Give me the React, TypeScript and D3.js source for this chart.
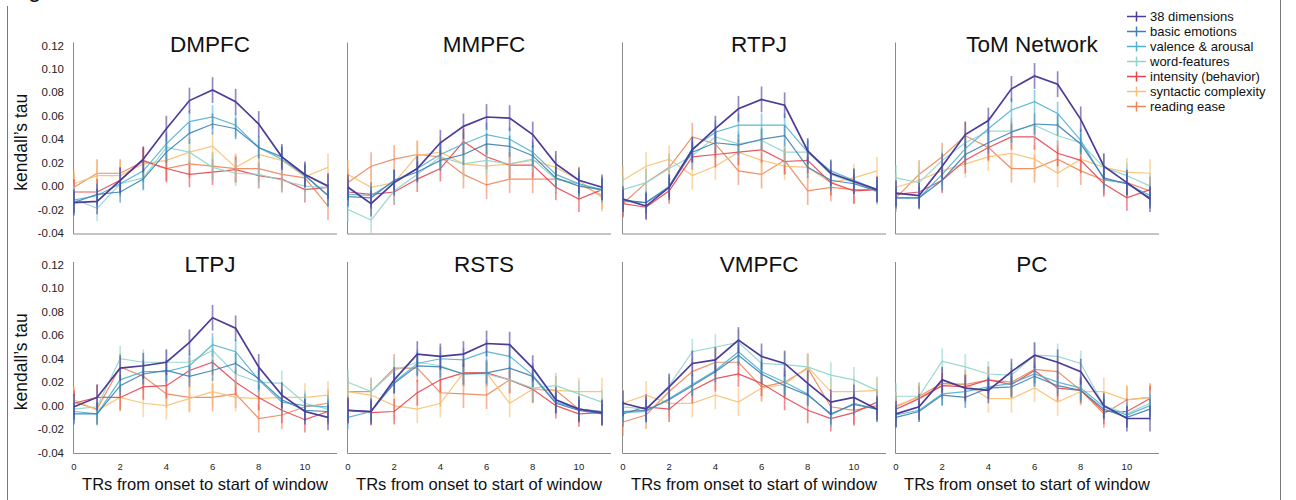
import React from "react";
import * as d3 from "d3";

// TR offsets (x categories)
const TRS = [0, 1, 2, 3, 4, 5, 6, 7, 8, 9, 10, 11];
const X_TICKS = [0, 2, 4, 6, 8, 10];
const Y_TICKS = [-0.04, -0.02, 0.0, 0.02, 0.04, 0.06, 0.08, 0.1, 0.12];

const SERIES = [
  "38 dimensions",
  "basic emotions",
  "valence & arousal",
  "word-features",
  "intensity (behavior)",
  "syntactic complexity",
  "reading ease",
];
const COLORS = ["#4b3c99", "#3d7fb5", "#4fb1cf", "#8ed5c9", "#e8434f", "#f8c070", "#f08456"];
// half-width of each series' error bar
const ERR = [0.011, 0.009, 0.01, 0.011, 0.011, 0.012, 0.012];

// rows: series in SERIES order, columns: TRS
const DMPFC = [
  [-0.014, -0.013, 0.005, 0.023, 0.049, 0.073, 0.082, 0.072, 0.053, 0.025, 0.01, 0.0],
  [-0.014, -0.007, -0.005, 0.006, 0.029, 0.045, 0.053, 0.049, 0.033, 0.025, 0.009, -0.008],
  [-0.012, -0.008, 0.002, 0.013, 0.036, 0.055, 0.059, 0.052, 0.033, 0.023, 0.009, -0.008],
  [-0.011, -0.019, 0.002, 0.007, 0.033, 0.029, 0.016, 0.011, 0.01, 0.005, 0.0, -0.001],
  [-0.005, -0.005, 0.005, 0.022, 0.015, 0.01, 0.012, 0.014, 0.009, 0.006, -0.003, -0.001],
  [0.002, 0.009, 0.009, 0.019, 0.022, 0.029, 0.034, 0.016, 0.027, 0.022, 0.008, 0.016],
  [-0.001, 0.011, 0.011, 0.021, 0.015, 0.019, 0.017, 0.015, 0.015, 0.01, 0.007, -0.017],
];
const MMPFC = [
  [-0.001, -0.015, 0.003, 0.015, 0.037, 0.051, 0.059, 0.058, 0.044, 0.019, 0.005, -0.001],
  [-0.009, -0.01, 0.005, 0.012, 0.022, 0.027, 0.036, 0.034, 0.026, 0.007, 0.0, -0.003],
  [-0.007, -0.008, 0.004, 0.015, 0.027, 0.036, 0.044, 0.04, 0.029, 0.01, 0.002, -0.003],
  [-0.02, -0.029, -0.004, 0.01, 0.025, 0.019, 0.022, 0.019, 0.023, 0.006, 0.002, -0.004],
  [-0.005, -0.007, -0.005, 0.006, 0.015, 0.038, 0.025, 0.018, 0.018, -0.001, -0.011, -0.003],
  [0.01, -0.001, 0.003, 0.026, 0.029, 0.019, 0.017, 0.019, 0.022, 0.016, 0.005, -0.01],
  [0.003, 0.017, 0.023, 0.027, 0.025, 0.01, 0.001, 0.006, 0.006, 0.006, 0.002, -0.008],
];
const RTPJ = [
  [-0.011, -0.017, -0.001, 0.031, 0.049, 0.066, 0.074, 0.069, 0.03, 0.011, 0.004, -0.003],
  [-0.012, -0.014, -0.001, 0.029, 0.037, 0.035, 0.04, 0.043, 0.016, 0.005, 0.002, -0.004],
  [-0.013, -0.014, 0.0, 0.032, 0.046, 0.052, 0.052, 0.052, 0.029, 0.013, 0.005, -0.003],
  [-0.003, 0.003, 0.015, 0.026, 0.042, 0.036, 0.039, 0.029, 0.029, 0.01, 0.003, -0.005],
  [-0.015, -0.018, -0.004, 0.025, 0.027, 0.029, 0.031, 0.021, 0.022, 0.003, -0.004, -0.003],
  [0.005, 0.017, 0.023, 0.009, 0.017, 0.029, 0.022, 0.017, 0.016, 0.003, 0.007, 0.013],
  [-0.015, 0.003, 0.016, 0.042, 0.036, 0.013, 0.01, 0.022, -0.004, -0.001, -0.003, -0.003],
];
const TOM = [
  [-0.006, -0.008, 0.017, 0.044, 0.056, 0.083, 0.094, 0.087, 0.057, 0.017, 0.003, -0.011],
  [-0.01, -0.01, 0.005, 0.027, 0.037, 0.046, 0.053, 0.052, 0.036, 0.007, 0.002, -0.01],
  [-0.01, -0.01, 0.01, 0.032, 0.049, 0.065, 0.072, 0.062, 0.039, 0.006, 0.002, -0.008],
  [0.007, 0.003, 0.022, 0.037, 0.047, 0.047, 0.052, 0.043, 0.037, 0.016, 0.009, 0.0],
  [-0.007, -0.005, 0.005, 0.022, 0.033, 0.042, 0.042, 0.028, 0.022, 0.002, -0.01, -0.003],
  [-0.001, 0.005, 0.013, 0.019, 0.025, 0.028, 0.023, 0.011, 0.023, 0.016, 0.012, 0.011],
  [-0.01, 0.01, 0.025, 0.043, 0.033, 0.015, 0.015, 0.023, 0.013, 0.005, 0.003, -0.004],
];
const LTPJ = [
  [-0.001, 0.007, 0.032, 0.034, 0.037, 0.054, 0.075, 0.066, 0.033, 0.009, -0.005, -0.01],
  [-0.007, -0.007, 0.017, 0.027, 0.03, 0.025, 0.03, 0.036, 0.023, 0.005, -0.004, -0.005],
  [-0.005, -0.007, 0.022, 0.029, 0.029, 0.034, 0.052, 0.046, 0.022, 0.003, 0.0, -0.001],
  [-0.003, -0.001, 0.04, 0.037, 0.037, 0.037, 0.047, 0.027, 0.02, 0.019, 0.002, -0.003],
  [0.002, 0.007, 0.007, 0.016, 0.017, 0.03, 0.037, 0.02, 0.007, -0.004, -0.012, -0.005],
  [0.005, -0.004, 0.007, 0.002, 0.0, 0.006, 0.012, 0.007, 0.006, 0.007, 0.007, 0.009],
  [0.003, -0.003, 0.033, 0.025, 0.01, 0.007, 0.007, 0.01, -0.011, -0.008, -0.001, 0.002],
];
const RSTS = [
  [-0.004, -0.005, 0.022, 0.044, 0.042, 0.044, 0.053, 0.052, 0.032, 0.005, -0.003, -0.006],
  [-0.004, -0.005, 0.019, 0.034, 0.033, 0.027, 0.028, 0.032, 0.025, 0.002, -0.004, -0.007],
  [-0.01, -0.005, 0.02, 0.036, 0.04, 0.039, 0.046, 0.042, 0.026, 0.003, -0.003, -0.005],
  [0.02, 0.012, 0.03, 0.037, 0.034, 0.027, 0.027, 0.022, 0.015, 0.017, 0.01, 0.003],
  [-0.004, -0.006, -0.005, 0.011, 0.022, 0.028, 0.028, 0.022, 0.014, 0.0, -0.007, -0.006],
  [0.012, 0.009, 0.0, -0.003, 0.002, 0.028, 0.028, 0.002, 0.014, 0.013, 0.012, 0.012],
  [0.012, 0.012, 0.032, 0.032, 0.011, 0.01, 0.009, 0.022, 0.014, 0.013, -0.003, -0.005],
];
const VMPFC = [
  [0.002, -0.003, 0.016, 0.036, 0.039, 0.056, 0.042, 0.036, 0.019, 0.003, 0.007, -0.003],
  [-0.005, -0.004, 0.005, 0.017, 0.029, 0.043, 0.027, 0.017, 0.009, -0.007, 0.001, -0.003],
  [-0.006, -0.005, 0.006, 0.018, 0.03, 0.046, 0.029, 0.02, 0.01, -0.008, 0.002, -0.003],
  [-0.001, -0.003, 0.017, 0.046, 0.05, 0.054, 0.036, 0.035, 0.033, 0.026, 0.022, 0.013],
  [-0.007, -0.001, -0.003, 0.013, 0.023, 0.027, 0.019, 0.007, -0.004, -0.011, -0.006, 0.003],
  [0.002, 0.009, 0.002, 0.002, 0.009, 0.003, 0.015, 0.018, 0.033, 0.012, 0.012, 0.013],
  [-0.014, -0.008, 0.012, 0.029, 0.037, 0.037, 0.016, 0.02, 0.032, -0.001, -0.004, 0.0],
];
const PC = [
  [-0.007, -0.001, 0.022, 0.015, 0.013, 0.029, 0.043, 0.037, 0.029, 0.0, -0.011, -0.011],
  [-0.01, -0.005, 0.009, 0.007, 0.015, 0.016, 0.025, 0.017, 0.013, -0.003, -0.01, -0.003],
  [-0.008, -0.004, 0.01, 0.012, 0.016, 0.019, 0.027, 0.02, 0.015, -0.001, -0.008, 0.0],
  [0.008, 0.008, 0.038, 0.033, 0.027, 0.026, 0.043, 0.042, 0.036, 0.0, -0.007, 0.002],
  [-0.003, 0.006, 0.017, 0.016, 0.022, 0.018, 0.03, 0.015, 0.013, -0.005, -0.005, 0.006],
  [0.0, 0.007, 0.017, 0.019, 0.006, 0.006, 0.015, 0.003, 0.012, 0.012, 0.005, 0.007],
  [-0.001, 0.008, 0.019, 0.018, 0.022, 0.02, 0.031, 0.029, 0.013, -0.007, 0.005, 0.007],
];

const PANELS = [
  { title: "DMPFC", data: DMPFC },
  { title: "MMPFC", data: MMPFC },
  { title: "RTPJ", data: RTPJ },
  { title: "ToM Network", data: TOM },
  { title: "LTPJ", data: LTPJ },
  { title: "RSTS", data: RSTS },
  { title: "VMPFC", data: VMPFC },
  { title: "PC", data: PC },
];

const FONT = "'Liberation Sans', Arial, Helvetica, sans-serif";
const COL_X = [74, 348, 623, 896];
const ROW_TOP = [45.5, 265];
const ROW_BOTTOM = [233, 452.5];
const AXIS_LEN = 263;

function Panel({ idx }: { idx: number }) {
  const { title, data } = PANELS[idx];
  const col = idx % 4;
  const row = Math.floor(idx / 4);
  const x0 = COL_X[col];
  const x = d3.scaleLinear().domain([0, 11]).range([x0, x0 + 254]);
  const y = d3.scaleLinear().domain([-0.04, 0.12]).range([ROW_BOTTOM[row], ROW_TOP[row]]);
  const line = d3
    .line<number>()
    .x((_, i) => x(TRS[i]))
    .y((v) => y(v));
  const axisY = ROW_BOTTOM[row] + 1;
  const order = [6, 5, 4, 3, 2, 1, 0];

  return (
    <g>
      {/* axes */}
      <line x1={x0 - 0.5} x2={x0 - 0.5} y1={ROW_TOP[row] - 3} y2={axisY} stroke="#8a8a8a" strokeWidth={1} />
      <line x1={x0 - 0.5} x2={x0 + AXIS_LEN} y1={axisY} y2={axisY} stroke="#8a8a8a" strokeWidth={1} />
      {col === 0 &&
        Y_TICKS.map((t) => (
          <text key={t} x={64} y={y(t) + 4} fontSize={11.5} textAnchor="end" fill="#222" fontFamily={FONT}>
            {t.toFixed(2)}
          </text>
        ))}
      {row === 1 &&
        X_TICKS.map((t) => (
          <text key={t} x={x(t)} y={axisY + 16} fontSize={9.5} textAnchor="middle" fill="#222" fontFamily={FONT}>
            {t}
          </text>
        ))}
      {row === 1 && (
        <text x={x0 + 131} y={axisY + 36} fontSize={16.5} textAnchor="middle" fill="#111" fontFamily={FONT}>
          TRs from onset to start of window
        </text>
      )}
      {col === 0 && (
        <text
          transform={`translate(27, ${(ROW_TOP[row] + ROW_BOTTOM[row]) / 2 + 3}) rotate(-90)`}
          fontSize={17.5}
          textAnchor="middle"
          fill="#111"
          fontFamily={FONT}
        >
          kendall’s tau
        </text>
      )}
      <text
        x={x0 + 136}
        y={ROW_TOP[row] + 6.5}
        fontSize={22.5}
        textAnchor="middle"
        fill="#111"
        fontFamily={FONT}
      >
        {title}
      </text>
      {/* series: error bars, then the mean line */}
      {order.map((s) => (
        <g key={s}>
          {data[s].map((v, i) => (
            <line
              key={i}
              x1={x(TRS[i])}
              x2={x(TRS[i])}
              y1={y(v - ERR[s])}
              y2={y(v + ERR[s])}
              stroke={COLORS[s]}
              strokeWidth={1.7}
              strokeOpacity={0.6}
            />
          ))}
          <path
            d={line(data[s]) || ""}
            fill="none"
            stroke={COLORS[s]}
            strokeWidth={s === 0 ? 1.7 : 1.2}
            strokeOpacity={s === 0 ? 1 : 0.9}
          />
        </g>
      ))}
    </g>
  );
}

function Legend() {
  const lx = 1127;
  return (
    <g>
      {SERIES.map((name, i) => {
        const cy = 16.5 + i * 15;
        return (
          <g key={name}>
            <line x1={lx} x2={lx + 19} y1={cy} y2={cy} stroke={COLORS[i]} strokeWidth={1.5} />
            <line x1={lx + 9.5} x2={lx + 9.5} y1={cy - 5} y2={cy + 5} stroke={COLORS[i]} strokeWidth={1.5} />
            <text x={lx + 23} y={cy + 4.5} fontSize={13} fill="#111" fontFamily={FONT}>
              {name}
            </text>
          </g>
        );
      })}
    </g>
  );
}

export default function App() {
  return (
    <svg
      width={1296}
      height={500}
      style={{ position: "absolute", left: 0, top: 0, background: "#fff" }}
    >
      <rect width={1296} height={500} fill="#fff" />
      <text x={28} y={-3} fontSize={24} fill="#111" fontFamily={FONT}>
        g
      </text>
      <line x1={7.5} x2={7.5} y1={6} y2={500} stroke="#777" strokeWidth={1} />
      <line x1={1280.5} x2={1280.5} y1={0} y2={500} stroke="#777" strokeWidth={1} />
      {PANELS.map((_, i) => (
        <Panel key={i} idx={i} />
      ))}
      <Legend />
    </svg>
  );
}
